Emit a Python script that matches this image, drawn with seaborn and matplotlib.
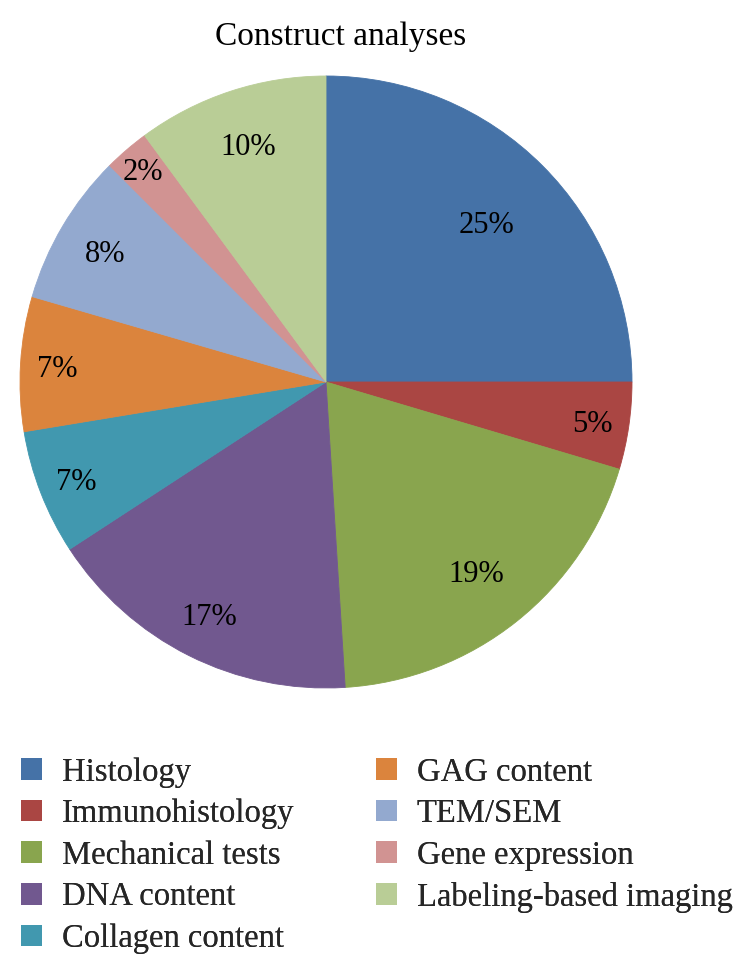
import matplotlib
matplotlib.use("Agg")
import matplotlib.pyplot as plt
import matplotlib.patches as mpatches
import numpy as np
import seaborn as sns

# ---- data ----
categories = ["Histology", "Immunohistology", "Mechanical tests", "DNA content",
              "Collagen content", "GAG content", "TEM/SEM", "Gene expression",
              "Labeling-based imaging"]
shares = [25.0, 4.6, 19.4, 16.8, 6.6, 7.1, 8.0, 2.4, 10.1]
colors = ["#4572A7", "#AA4643", "#89A54E", "#71588F", "#4198AF",
          "#DB843D", "#93A9CF", "#D19392", "#B9CD96"]
title = "Construct analyses"

# label radial positions (fraction of radius), per slice
label_r = [0.74, 0.88, 0.79, 0.85, 0.875, 0.88, 0.84, 0.92, 0.82]

sns.set_theme(style="white")
plt.rcParams["font.family"] = ["Liberation Serif", "DejaVu Serif"]
palette = sns.color_palette(colors)

W, H = 752, 971
fig = plt.figure(figsize=(W / 100, H / 100), dpi=100)
fig.patch.set_facecolor("white")

# pie axes: square box from x 20..632, y 76..688 px
ax = fig.add_axes([20 / W, 1 - 688 / H, 612 / W, 612 / H])
wedges, _ = ax.pie(shares, colors=palette, startangle=90, counterclock=False,
                   radius=1.0, wedgeprops=dict(linewidth=0.6))
for w in wedges:
    w.set_edgecolor(w.get_facecolor())
ax.set_xlim(-1, 1)
ax.set_ylim(-1, 1)
ax.set_aspect("equal")
ax.axis("off")

total = sum(shares)
for w, v, r in zip(wedges, shares, label_r):
    ang = np.deg2rad((w.theta1 + w.theta2) / 2)
    ax.text(r * np.cos(ang), r * np.sin(ang), f"{round(v / total * 100):.0f}%",
            ha="center", va="center_baseline", fontsize=22, color="black")

fig.text(341 / W, 1 - 45 / H, title, ha="center", va="baseline",
         fontsize=24, color="black")

handles = [mpatches.Patch(facecolor=c, edgecolor="none") for c in palette]
col_x = [21, 376]
splits = [(0, 5), (5, 9)]
for cx, (a, b) in zip(col_x, splits):
    leg = fig.legend(handles[a:b], categories[a:b], loc="upper left",
                     bbox_to_anchor=(cx / W, 1 - 757 / H),
                     frameon=False, borderpad=0, borderaxespad=0,
                     fontsize=23.5, handlelength=0.645, handleheight=0.645,
                     handletextpad=0.6, labelspacing=0.34)
    fig.add_artist(leg)

fig.savefig("out.png", dpi=100, facecolor="white")
